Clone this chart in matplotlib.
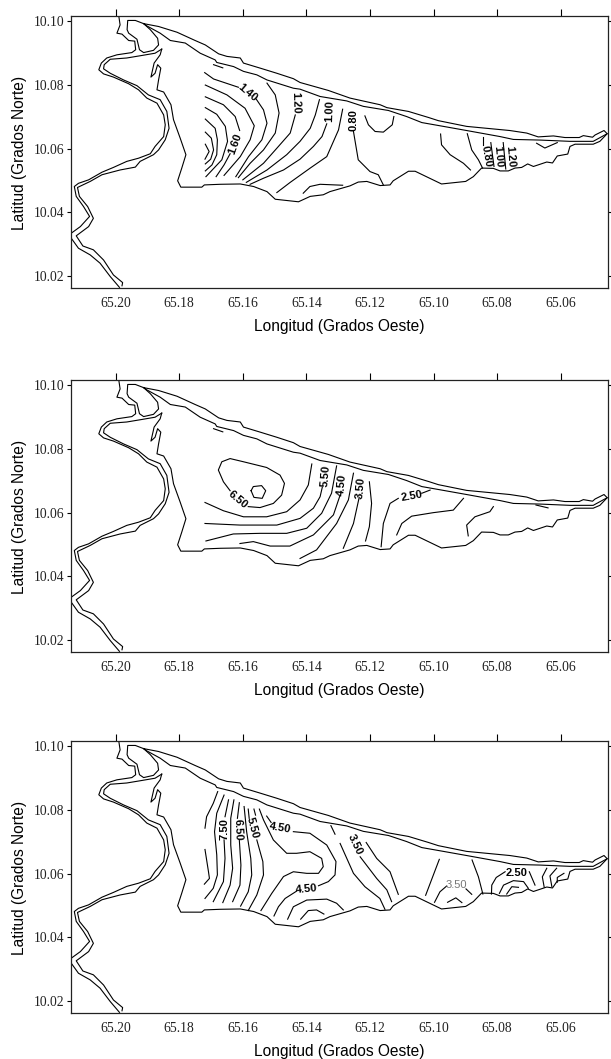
import matplotlib
matplotlib.use("Agg")
import matplotlib.pyplot as plt

# limites del mapa
lon_min = 65.2142
lon_max = 65.0453
lat_min = 10.0162
lat_max = 10.1017
lon_ticks = [65.20, 65.18, 65.16, 65.14, 65.12, 65.10, 65.08, 65.06]
lat_ticks = [10.02, 10.04, 10.06, 10.08, 10.10]

# costa (lon, lat)
costa_a = [(65.1990,10.1016),(65.1986,10.0989),(65.1996,10.0963),(65.1980,10.0960),(65.1959,10.0940),(65.1940,10.0938),
           (65.1937,10.0911),(65.1949,10.0902),(65.1996,10.0895),(65.2028,10.0885),(65.2045,10.0869),(65.2053,10.0848),
           (65.2038,10.0835),(65.2007,10.0825),(65.1959,10.0804),(65.1928,10.0785),(65.1902,10.0759),(65.1870,10.0743),
           (65.1849,10.0706),(65.1844,10.0675),(65.1849,10.0638),(65.1876,10.0607),(65.1891,10.0584),(65.1928,10.0570),
           (65.1965,10.0560),(65.2007,10.0541),(65.2043,10.0526),(65.2085,10.0502),(65.2117,10.0491),(65.2130,10.0481),
           (65.2124,10.0450),(65.2101,10.0418),(65.2082,10.0387),(65.2111,10.0355),(65.2140,10.0334),(65.2140,10.0319),
           (65.2117,10.0287),(65.2080,10.0266),(65.2049,10.0240),(65.2017,10.0198),(65.1988,10.0164)]
costa_b = [(65.1855,10.0913),(65.1876,10.0900),(65.1923,10.0892),(65.1965,10.0885),(65.2017,10.0881),(65.2036,10.0864),
           (65.2038,10.0851),(65.2017,10.0837),(65.1975,10.0816),(65.1933,10.0798),(65.1897,10.0769),(65.1860,10.0754),
           (65.1839,10.0717),(65.1832,10.0664),(65.1844,10.0628),(65.1865,10.0596),(65.1881,10.0581),(65.1923,10.0560),
           (65.1938,10.0542),(65.1986,10.0533),(65.2043,10.0518),(65.2080,10.0497),(65.2120,10.0478),(65.2114,10.0450),
           (65.2088,10.0418),(65.2070,10.0381),(65.2085,10.0355),(65.2124,10.0326),(65.2103,10.0294),(65.2070,10.0282),
           (65.2038,10.0250),(65.2007,10.0203),(65.1978,10.0179),(65.1980,10.0169)]
costa_c = [(65.1855,10.0913),(65.1860,10.0895),(65.1879,10.0869),(65.1889,10.0825),(65.1876,10.0837),(65.1868,10.0864),
           (65.1858,10.0853),(65.1865,10.0816),(65.1870,10.0785),(65.1849,10.0778),(65.1826,10.0738),(65.1818,10.0691),
           (65.1797,10.0633),(65.1779,10.0581),(65.1792,10.0539),(65.1805,10.0499),(65.1795,10.0479),(65.1729,10.0479),
           (65.1721,10.0486),(65.1671,10.0488),(65.1608,10.0489),(65.1566,10.0481),(65.1524,10.0465),(65.1498,10.0441),
           (65.1425,10.0433),(65.1388,10.0450),(65.1347,10.0455),(65.1326,10.0465),(65.1263,10.0483),(65.1237,10.0495),
           (65.1210,10.0497),(65.1168,10.0484),(65.1137,10.0486),(65.1127,10.0499),(65.1079,10.0529),(65.1058,10.0529),
           (65.0975,10.0489),(65.0899,10.0497),(65.0875,10.0512),(65.0849,10.0539),(65.0812,10.0538),(65.0791,10.0530),
           (65.0765,10.0530),(65.0744,10.0539),(65.0723,10.0541),(65.0704,10.0552),(65.0686,10.0544),(65.0644,10.0558),
           (65.0626,10.0555),(65.0611,10.0577),(65.0578,10.0583),(65.0571,10.0607),(65.0555,10.0614),(65.0498,10.0614),
           (65.0477,10.0623),(65.0454,10.0647),(65.0464,10.0657),(65.0492,10.0643),(65.0500,10.0636),(65.0529,10.0641),
           (65.0542,10.0635),(65.0587,10.0635),(65.0623,10.0640),(65.0671,10.0637),(65.0707,10.0649),(65.0760,10.0657),
           (65.0896,10.0670),(65.0985,10.0688),(65.1016,10.0698),(65.1079,10.0717),(65.1147,10.0729),(65.1168,10.0738),
           (65.1263,10.0759),(65.1331,10.0783),(65.1420,10.0808),(65.1441,10.0820),(65.1493,10.0837),(65.1545,10.0853),
           (65.1598,10.0869),(65.1608,10.0885),(65.1650,10.0890),(65.1676,10.0898),(65.1718,10.0926),(65.1750,10.0940),
           (65.1807,10.0966),(65.1865,10.0984),(65.1912,10.0993),(65.1938,10.1003),(65.1962,10.1003),(65.1964,10.0974),
           (65.1959,10.0963),(65.1933,10.0944),(65.1925,10.0911),(65.1912,10.0902),(65.1881,10.0909),(65.1865,10.0926),
           (65.1868,10.0947),(65.1891,10.0974),(65.1912,10.0993)]
costa_d = [(65.0454,10.0647),(65.0498,10.0623),(65.0571,10.0623),(65.0665,10.0627),(65.0749,10.0629),(65.0791,10.0638),
           (65.0896,10.0657),(65.0969,10.0670),(65.1037,10.0682),(65.1085,10.0701),(65.1142,10.0720),(65.1221,10.0733),
           (65.1273,10.0750),(65.1357,10.0764),(65.1420,10.0787),(65.1441,10.0790),(65.1524,10.0816),(65.1556,10.0832),
           (65.1598,10.0843),(65.1629,10.0858),(65.1682,10.0871),(65.1687,10.0879),(65.1734,10.0900),(65.1781,10.0932),
           (65.1828,10.0940),(65.1860,10.0963),(65.1902,10.0986),(65.1912,10.0993)]
costa_e = [(65.1692,10.0864),(65.1663,10.0854)]

# isolineas, mapa superior
iso_1 = [
    [(65.1718,10.0614),(65.1706,10.0591),(65.1719,10.0567)],
    [(65.1718,10.0652),(65.1699,10.0633),(65.1692,10.0596),(65.1701,10.0567),(65.1718,10.0552)],
    [(65.1718,10.0693),(65.1687,10.0664),(65.1680,10.0628),(65.1682,10.0581),(65.1697,10.0549),(65.1718,10.0530)],
    [(65.1718,10.0729),(65.1682,10.0708),(65.1655,10.0670),(65.1648,10.0623),(65.1666,10.0565),(65.1716,10.0512)],
    [(65.1718,10.0763),(65.1661,10.0738),(65.1624,10.0701),(65.1610,10.0657)],
    [(65.1640,10.0584),(65.1659,10.0549),(65.1684,10.0512)],
    [(65.1718,10.0800),(65.1650,10.0769),(65.1593,10.0727),(65.1564,10.0672),(65.1577,10.0628),(65.1608,10.0575),(65.1659,10.0516)],
    [(65.1720,10.0839),(65.1692,10.0819),(65.1614,10.0793)],
    [(65.1558,10.0756),(65.1535,10.0722),(65.1524,10.0680),(65.1540,10.0628),(65.1582,10.0575),(65.1622,10.0512)],
    [(65.1524,10.0806),(65.1498,10.0769),(65.1486,10.0712),(65.1498,10.0649),(65.1535,10.0596),(65.1577,10.0554),(65.1614,10.0509)],
    [(65.1435,10.0706),(65.1451,10.0649),(65.1488,10.0607),(65.1535,10.0554),(65.1600,10.0502)],
    [(65.1359,10.0754),(65.1372,10.0706),(65.1388,10.0664),(65.1420,10.0623),(65.1462,10.0581),(65.1524,10.0533),(65.1589,10.0494)],
    [(65.1336,10.0678),(65.1351,10.0638),(65.1378,10.0607),(65.1420,10.0567),(65.1472,10.0533),(65.1535,10.0507),(65.1577,10.0488)],
    [(65.1286,10.0724),(65.1299,10.0659),(65.1336,10.0575),(65.1388,10.0539),(65.1451,10.0494),(65.1493,10.0462)],
    [(65.1286,10.0485),(65.1357,10.0488),(65.1389,10.0481),(65.1410,10.0460)],
    [(65.1252,10.0654),(65.1237,10.0565),(65.1200,10.0528),(65.1174,10.0518),(65.1158,10.0486)],
    [(65.1216,10.0703),(65.1205,10.0675),(65.1184,10.0654),(65.1158,10.0652),(65.1130,10.0675),(65.1125,10.0701)],
    [(65.0978,10.0646),(65.0975,10.0612),(65.0948,10.0581),(65.0906,10.0554),(65.0884,10.0533)],
    [(65.0894,10.0647),(65.0880,10.0596),(65.0859,10.0565),(65.0846,10.0539)],
    [(65.0846,10.0636),(65.0846,10.0612)],
    [(65.0820,10.0619),(65.0810,10.0544)],
    [(65.0781,10.0619),(65.0773,10.0536)],
    [(65.0676,10.0617),(65.0650,10.0602),(65.0611,10.0619)],
]
etiq_1 = ["1.40", "1.20", "1.60", "1.00", "0.80", "0.80", "1.00", "1.20"]
etiq_1_lon = [65.1585, 65.1433, 65.1624, 65.1328, 65.1252, 65.0835, 65.0796, 65.0758]
etiq_1_lat = [10.0775, 10.0743, 10.0614, 10.0719, 10.0689, 10.0575, 10.0575, 10.0575]
etiq_1_rot = [-40, -88, 70, 88, 90, -80, -85, -85]

# isolineas, mapa central
iso_2 = [
    [(65.1640,10.0669),(65.1661,10.0697),(65.1677,10.0734),(65.1666,10.0760),(65.1640,10.0770),(65.1598,10.0760),(65.1525,10.0742),
     (65.1483,10.0718),(65.1469,10.0692),(65.1478,10.0655),(65.1504,10.0629),(65.1546,10.0616),(65.1583,10.0619)],
    [(65.1574,10.0669),(65.1567,10.0682),(65.1541,10.0685),(65.1528,10.0669),(65.1539,10.0645),(65.1565,10.0648),(65.1574,10.0669)],
    [(65.1719,10.0632),(65.1661,10.0606),(65.1598,10.0587),(65.1525,10.0587),(65.1462,10.0603),(65.1420,10.0640),(65.1394,10.0687),(65.1383,10.0753)],
    [(65.1719,10.0566),(65.1609,10.0561),(65.1493,10.0561),(65.1420,10.0582),(65.1378,10.0614),(65.1357,10.0650),(65.1350,10.0680)],
    [(65.1716,10.0511),(65.1630,10.0533),(65.1546,10.0535),(65.1462,10.0535),(65.1399,10.0551),(65.1352,10.0598),(65.1321,10.0661),(65.1305,10.0747)],
    [(65.1609,10.0503),(65.1567,10.0509),(65.1514,10.0495),(65.1452,10.0495),(65.1378,10.0530),(65.1315,10.0593),(65.1294,10.0655)],
    [(65.1420,10.0456),(65.1368,10.0483),(65.1305,10.0566),(65.1268,10.0640),(65.1252,10.0724)],
    [(65.1284,10.0488),(65.1252,10.0566),(65.1234,10.0648)],
    [(65.1214,10.0511),(65.1202,10.0556),(65.1195,10.0629),(65.1202,10.0697)],
    [(65.1165,10.0493),(65.1158,10.0566),(65.1137,10.0629),(65.1111,10.0645)],
    [(65.1037,10.0661),(65.1011,10.0671)],
    [(65.1116,10.0530),(65.1100,10.0566),(65.1069,10.0589),(65.1001,10.0600),(65.0938,10.0608),(65.0906,10.0645)],
    [(65.0891,10.0527),(65.0896,10.0561),(65.0870,10.0587),(65.0823,10.0603),(65.0812,10.0619)],
    [(65.0678,10.0624),(65.0640,10.0615)],
]
etiq_2 = ["6.50", "5.50", "4.50", "3.50", "2.50"]
etiq_2_lon = [65.1614, 65.1339, 65.1287, 65.1229, 65.1069]
etiq_2_lat = [10.0640, 10.0715, 10.0689, 10.0679, 10.0653]
etiq_2_rot = [-40, 85, 85, 85, 10]

# isolineas, mapa inferior
iso_3 = [
    [(65.1719,10.0743),(65.1714,10.0779),(65.1693,10.0821),(65.1679,10.0858)],
    [(65.1719,10.0676),(65.1708,10.0606),(65.1705,10.0585),(65.1721,10.0567)],
    [(65.1659,10.0847),(65.1682,10.0790),(65.1689,10.0732),(65.1682,10.0659),(65.1680,10.0596),(65.1693,10.0554),(65.1719,10.0522)],
    [(65.1645,10.0832),(65.1656,10.0779)],
    [(65.1659,10.0706),(65.1656,10.0648),(65.1661,10.0575),(65.1693,10.0512)],
    [(65.1628,10.0832),(65.1638,10.0774),(65.1638,10.0690),(65.1632,10.0617),(65.1640,10.0564),(65.1663,10.0509)],
    [(65.1611,10.0823),(65.1617,10.0774)],
    [(65.1611,10.0706),(65.1606,10.0627),(65.1609,10.0564),(65.1632,10.0512)],
    [(65.1596,10.0811),(65.1588,10.0732),(65.1575,10.0648),(65.1572,10.0596),(65.1583,10.0543),(65.1607,10.0498)],
    [(65.1583,10.0803),(65.1580,10.0774)],
    [(65.1556,10.0706),(65.1537,10.0638),(65.1535,10.0596),(65.1556,10.0533),(65.1583,10.0484)],
    [(65.1565,10.0803),(65.1560,10.0784)],
    [(65.1548,10.0803),(65.1535,10.0769),(65.1504,10.0706),(65.1462,10.0664),(65.1431,10.0664),(65.1389,10.0669),(65.1352,10.0648),
     (65.1347,10.0622),(65.1362,10.0601),(65.1399,10.0601),(65.1441,10.0606),(65.1472,10.0591),(65.1509,10.0538),(65.1543,10.0484)],
    [(65.1525,10.0781),(65.1511,10.0761)],
    [(65.1441,10.0732),(65.1389,10.0727),(65.1336,10.0690),(65.1307,10.0638),(65.1310,10.0596),(65.1331,10.0575),(65.1362,10.0562)],
    [(65.1431,10.0545),(65.1467,10.0522),(65.1488,10.0496),(65.1502,10.0467)],
    [(65.1459,10.0457),(65.1441,10.0496),(65.1399,10.0517),(65.1336,10.0520),(65.1305,10.0507),(65.1284,10.0486)],
    [(65.1418,10.0457),(65.1394,10.0484),(65.1368,10.0486),(65.1345,10.0473)],
    [(65.1323,10.0751),(65.1310,10.0724)],
    [(65.1294,10.0695),(65.1252,10.0601),(65.1216,10.0559),(65.1169,10.0522),(65.1153,10.0488)],
    [(65.1231,10.0653),(65.1179,10.0585),(65.1147,10.0549),(65.1132,10.0512)],
    [(65.1212,10.0698),(65.1179,10.0648),(65.1137,10.0606),(65.1111,10.0535)],
    [(65.0982,10.0645),(65.1025,10.0532)],
    [(65.0997,10.0510),(65.0980,10.0543),(65.0959,10.0561)],
    [(65.0898,10.0552),(65.0880,10.0535)],
    [(65.0956,10.0510),(65.0930,10.0524),(65.0911,10.0509)],
    [(65.0879,10.0643),(65.0859,10.0590),(65.0845,10.0536)],
    [(65.0818,10.0536),(65.0817,10.0564),(65.0803,10.0588),(65.0775,10.0606)],
    [(65.0793,10.0538),(65.0780,10.0564),(65.0749,10.0578),(65.0717,10.0575),(65.0702,10.0554)],
    [(65.0770,10.0536),(65.0754,10.0559),(65.0733,10.0557)],
    [(65.0699,10.0606),(65.0681,10.0564)],
    [(65.0644,10.0617),(65.0658,10.0590),(65.0652,10.0557)],
    [(65.0613,10.0617),(65.0634,10.0593),(65.0628,10.0559)],
    [(65.0590,10.0601),(65.0611,10.0588),(65.0611,10.0573)],
]
etiq_3 = ["7.50", "6.50", "5.50", "4.50", "4.50", "3.50", "2.50"]
etiq_3_lon = [65.1659, 65.1616, 65.1570, 65.1483, 65.1399, 65.1247, 65.0738]
etiq_3_lat = [10.0740, 10.0739, 10.0743, 10.0743, 10.0551, 10.0690, 10.0603]
etiq_3_rot = [90, -88, -75, -10, 5, -65, 0]


def linea(ax, puntos):
    ax.plot([p[0] for p in puntos], [p[1] for p in puntos], color="black", lw=0.8, solid_joinstyle="round")


def mapa(ax, isolineas, etiq, etiq_lon, etiq_lat, etiq_rot, trozo=True):
    for c in [costa_a, costa_b, costa_c, costa_d]:
        linea(ax, c)
    if trozo:
        linea(ax, costa_e)
    for c in isolineas:
        linea(ax, c)
    for i in range(len(etiq)):
        ax.text(etiq_lon[i], etiq_lat[i], etiq[i], rotation=etiq_rot[i], rotation_mode="anchor",
                ha="center", va="center", fontsize=8, fontweight="bold", family="Liberation Sans", color="black")
    ax.set_xlim(lon_min, lon_max)
    ax.set_ylim(lat_min, lat_max)
    ax.set_xticks(lon_ticks)
    ax.set_yticks(lat_ticks)
    ax.set_xticklabels(["%.2f" % v for v in lon_ticks], family="Liberation Serif", fontsize=9.8, color="#222222")
    ax.set_yticklabels(["%.2f" % v for v in lat_ticks], family="Liberation Serif", fontsize=9.8, color="#222222")
    ax.tick_params(axis="x", top=True, bottom=False, direction="out", length=4.8, width=0.8, pad=1.8)
    ax.tick_params(axis="y", left=True, right=True, direction="out", length=3, width=0.8, pad=1.5)
    ax.set_xlabel("Longitud (Grados Oeste)", family="Liberation Sans", fontsize=11.2)
    ax.set_ylabel("Latitud (Grados Norte)", family="Liberation Sans", fontsize=11.2)
    ax.xaxis.set_label_coords(0.5, -0.115)
    ax.yaxis.set_label_coords(-0.081, 0.498)
    for s in ax.spines.values():
        s.set_linewidth(0.9)
        s.set_color("#222222")


W = 611
H = 1059
fig = plt.figure(figsize=(W / 100, H / 100), dpi=100)
arriba = [16, 380, 741]
axs = [fig.add_axes([70.5 / W, 1 - (a + 272) / H, 537 / W, 272 / H]) for a in arriba]

mapa(axs[0], iso_1, etiq_1, etiq_1_lon, etiq_1_lat, etiq_1_rot)
mapa(axs[1], iso_2, etiq_2, etiq_2_lon, etiq_2_lat, etiq_2_rot)
mapa(axs[2], iso_3, etiq_3, etiq_3_lon, etiq_3_lat, etiq_3_rot, trozo=False)
# esta etiqueta va en gris y sin negrita
axs[2].text(65.0927, 10.0564, "3.50", ha="center", va="center", fontsize=8, family="Liberation Sans", color="#777777")

fig.savefig("out.png", dpi=100)
